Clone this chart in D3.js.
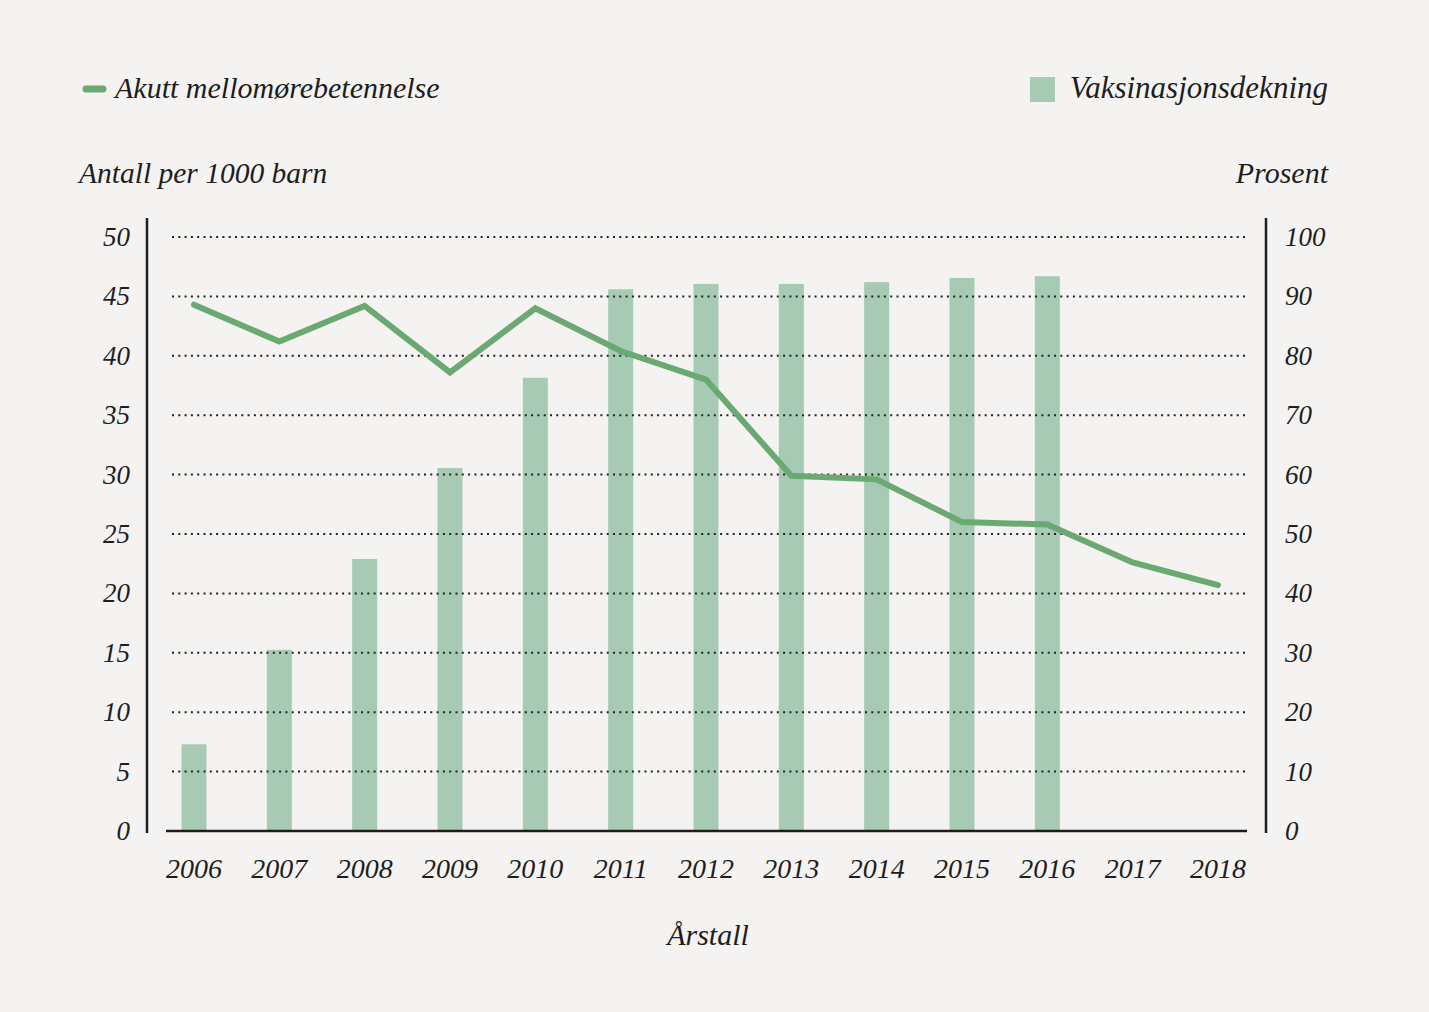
<!DOCTYPE html>
<html><head><meta charset="utf-8">
<script src="https://cdn.jsdelivr.net/npm/d3@7"></script>
<style>
html,body{margin:0;padding:0;background:#f4f3f1;}
svg{display:block;}
text{font-family:"Liberation Serif",serif;font-style:italic;fill:#1e1e1e;}
</style></head>
<body>
<svg id="chart" width="1429" height="1012"></svg>
<script>
const years = [2006,2007,2008,2009,2010,2011,2012,2013,2014,2015,2016,2017,2018];
const otitis = [44.3,41.2,44.2,38.6,44.0,40.4,38.0,29.9,29.6,26.0,25.8,22.6,20.7];
const vaccine = [14.6,30.5,45.8,61.1,76.3,91.2,92.1,92.1,92.4,93.1,93.4,null,null];
const leftTicks = [0,5,10,15,20,25,30,35,40,45,50];
const rightTicks = [0,10,20,30,40,50,60,70,80,90,100];

const svg = d3.select("#chart");
svg.append("rect").attr("width",1429).attr("height",1012).attr("fill","#f4f3f1");

const x = d3.scalePoint().domain(years).range([194,1218]);
const yL = d3.scaleLinear().domain([0,50]).range([831,237]);
const yR = d3.scaleLinear().domain([0,100]).range([831,237]);

// bars
const bw = 25;
svg.append("g").selectAll("rect").data(years.map((y,i)=>({y,v:vaccine[i]})).filter(d=>d.v!=null)).join("rect")
  .attr("x",d=>x(d.y)-bw/2).attr("width",bw)
  .attr("y",d=>yR(d.v)).attr("height",d=>831-yR(d.v))
  .attr("fill","#a7cab5");

// gridlines (on top of bars)
svg.append("g").selectAll("line").data(leftTicks.filter(d=>d>0)).join("line")
  .attr("x1",172).attr("x2",1247)
  .attr("y1",d=>yL(d)).attr("y2",d=>yL(d))
  .attr("stroke","#222").attr("stroke-width",2)
  .attr("stroke-dasharray","2,4.3");

// axes lines
svg.append("line").attr("x1",147).attr("x2",147).attr("y1",218).attr("y2",833).attr("stroke","#1e1e1e").attr("stroke-width",2.5);
svg.append("line").attr("x1",1266).attr("x2",1266).attr("y1",218).attr("y2",833).attr("stroke","#1e1e1e").attr("stroke-width",2.5);
svg.append("line").attr("x1",166).attr("x2",1247).attr("y1",831).attr("y2",831).attr("stroke","#1e1e1e").attr("stroke-width",2.5);

// line
const line = d3.line().x((d,i)=>x(years[i])).y(d=>yL(d));
svg.append("path").datum(otitis).attr("d",line).attr("fill","none")
  .attr("stroke","#6aaa72").attr("stroke-width",6).attr("stroke-linejoin","miter").attr("stroke-linecap","round");

// left tick labels
svg.append("g").selectAll("text").data(leftTicks).join("text")
  .attr("x",130).attr("y",d=>yL(d)+9).attr("text-anchor","end")
  .attr("font-size",27).text(d=>d);
// right tick labels
svg.append("g").selectAll("text").data(rightTicks).join("text")
  .attr("x",1285).attr("y",d=>yR(d)+9).attr("text-anchor","start")
  .attr("font-size",27).text(d=>d);
// x labels
svg.append("g").selectAll("text").data(years).join("text")
  .attr("x",d=>x(d)).attr("y",878).attr("text-anchor","middle")
  .attr("font-size",28).text(d=>d);

// titles
svg.append("text").attr("x",708).attr("y",945).attr("text-anchor","middle").attr("font-size",30).text("Årstall");
svg.append("text").attr("x",79).attr("y",183).attr("font-size",29.5).text("Antall per 1000 barn");
svg.append("text").attr("x",1328).attr("y",183).attr("text-anchor","end").attr("font-size",30).text("Prosent");

// legend
svg.append("line").attr("x1",86).attr("x2",103).attr("y1",89).attr("y2",89).attr("stroke","#6aaa72").attr("stroke-width",7).attr("stroke-linecap","round");
svg.append("text").attr("x",115).attr("y",98).attr("font-size",30).text("Akutt mellomørebetennelse");
svg.append("rect").attr("x",1030).attr("y",77).attr("width",25).attr("height",25).attr("fill","#a7cab5");
svg.append("text").attr("x",1328).attr("y",98).attr("text-anchor","end").attr("font-size",31).text("Vaksinasjonsdekning");
</script>
</body></html>
